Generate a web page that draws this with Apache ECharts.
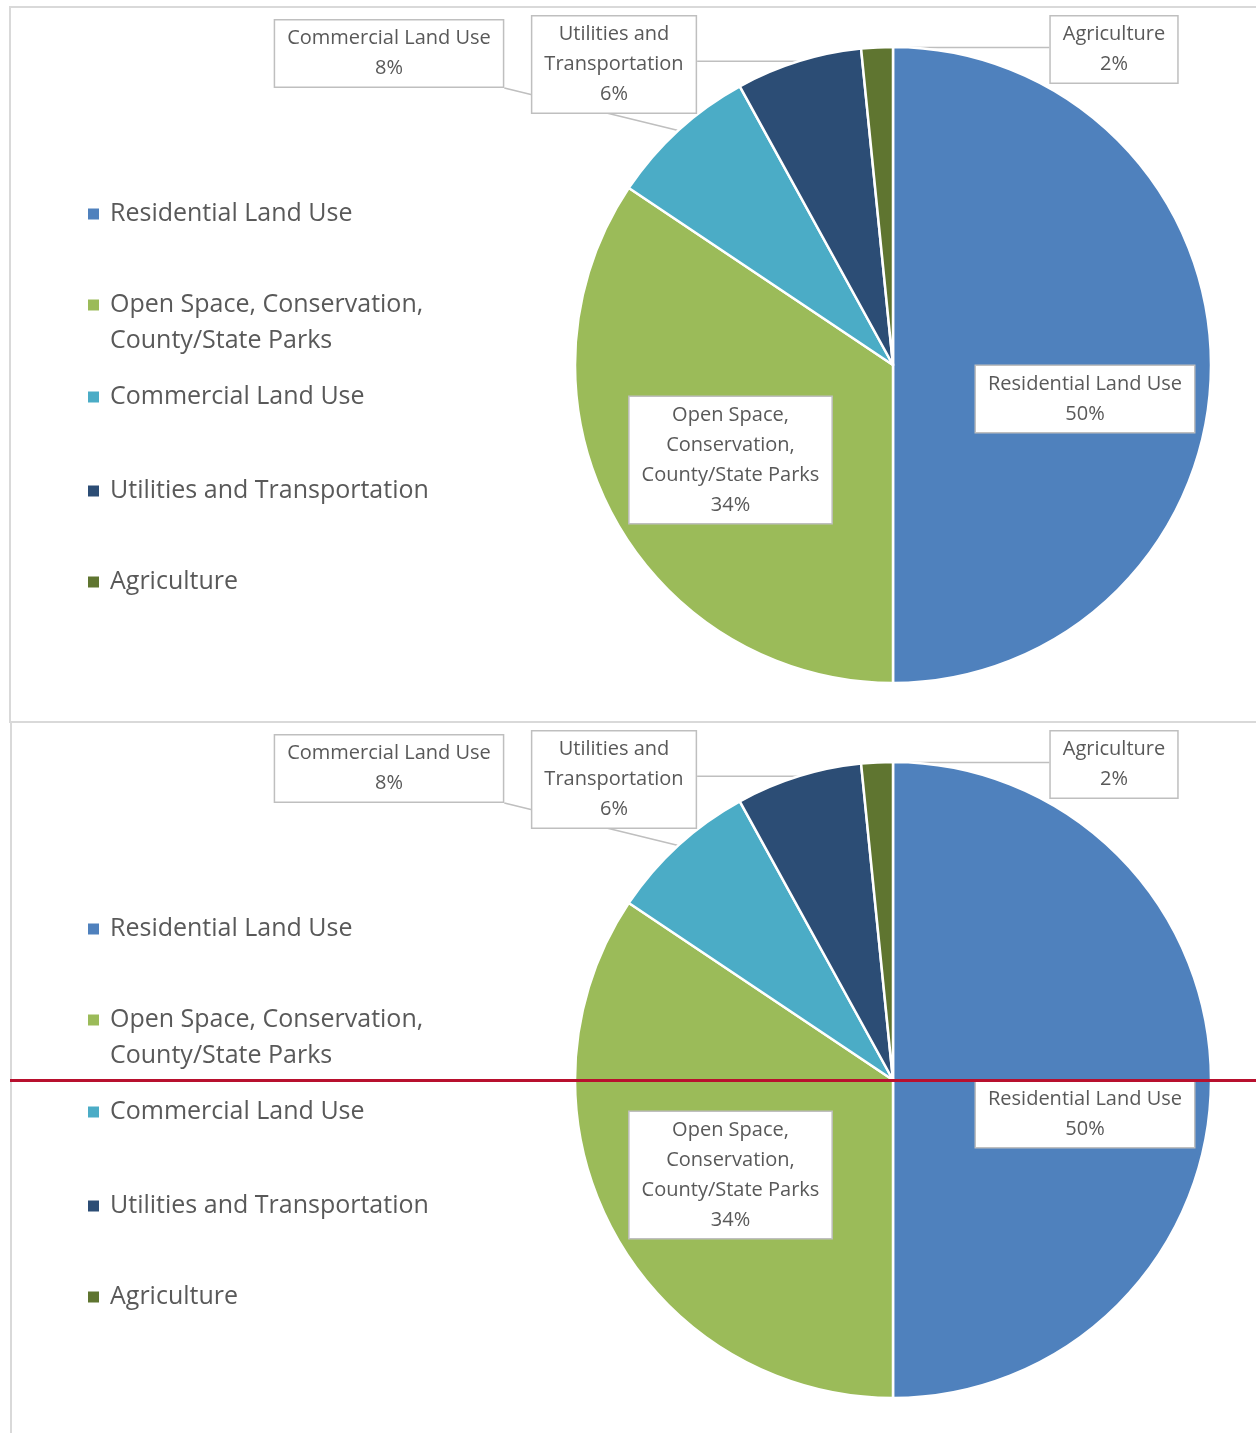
<!DOCTYPE html>
<html>
<head>
<meta charset="utf-8">
<title>Land Use</title>
<script src="https://cdn.jsdelivr.net/npm/echarts@6.0.0/dist/echarts.min.js"></script>
<style>
  html, body { margin: 0; padding: 0; background: #fff; }
  body { width: 1256px; height: 1433px; position: relative; overflow: hidden; }
  .frame1 { position: absolute; left: 9px; top: 6px; width: 1300px; height: 713px; border: 2px solid #d9d9d9; }
  .frame2 { position: absolute; left: 10px; top: 721px; width: 1300px; height: 800px; border-left: 2px solid #d9d9d9; }
  .chart { position: absolute; left: 0; width: 1256px; height: 716px; }
</style>
</head>
<body>
<div class="frame1"></div>
<div class="frame2"></div>
<div id="chart-top" class="chart" style="top:0"></div>
<div id="chart-bottom" class="chart" style="top:715px"></div>
<script>
// data
const categories = [
    'Residential Land Use',
    'Open Space, Conservation, County/State Parks',
    'Commercial Land Use',
    'Utilities and Transportation',
    'Agriculture'
];
const shares = [50.0, 34.4, 7.6, 6.4, 1.6];
const labelNames = [
    'Residential Land Use',
    'Open Space,\nConservation,\nCounty/State Parks',
    'Commercial Land Use',
    'Utilities and\nTransportation',
    'Agriculture'
];
const colors = ['#4f81bd', '#9bbb59', '#4bacc6', '#2c4d75', '#5f7530'];

// layout (pixels inside each chart)
const PIE_CENTER = [893, 365];
const PIE_RADIUS = 318;
const LEGEND_ROWS = [214, 305, 397, 491, 582];
const LABEL_CENTERS = [[1085, 399], [730.5, 460], [389, 53.5], [614, 64.5], [1114, 49.5]];
const FONT = '"Open Sans", "Noto Sans", sans-serif';
const TEXT_COLOR = '#595959';

function buildOption(withMarker) {
    // one legend per row so the rows can sit where the picture has them
    const legends = categories.map((name, i) => {
        const twoLine = name.indexOf(', County') > 0;
        return {
            orient: 'vertical',
            left: 88,
            top: twoLine ? LEGEND_ROWS[i] - 54 : LEGEND_ROWS[i] - 18,
            padding: 0,
            data: [name],
            icon: 'rect',
            itemWidth: 11,
            itemHeight: 11,
            itemStyle: { borderWidth: 0 },
            selectedMode: false,
            // a blank first line keeps the icon level with the first text line
            formatter: n => twoLine ? '\n' + n.replace(', County', ',\nCounty') : n,
            textStyle: {
                color: TEXT_COLOR,
                fontFamily: FONT,
                fontSize: 25,
                lineHeight: 36,
                padding: [0, 0, 0, 6]
            }
        };
    });

    const option = {
        animation: false,
        color: colors,
        legend: legends,
        series: [{
            type: 'pie',
            center: PIE_CENTER,
            radius: PIE_RADIUS,
            startAngle: 90,
            clockwise: true,
            avoidLabelOverlap: false,
            silent: true,
            emphasis: { disabled: true },
            itemStyle: { borderColor: '#fff', borderWidth: 2.5 },
            label: {
                show: true,
                position: 'outside',
                formatter: p => labelNames[p.dataIndex] + '\n' + Math.round(p.percent) + '%',
                color: TEXT_COLOR,
                fontFamily: FONT,
                fontSize: 20,
                lineHeight: 30,
                align: 'center',
                backgroundColor: '#fff',
                borderColor: '#bfbfbf',
                borderWidth: 1.5,
                padding: [5, 12, 1, 12]
            },
            labelLine: {
                show: true,
                length: 10,
                length2: 10,
                lineStyle: { color: '#bfbfbf', width: 1.5 }
            },
            labelLayout: function (params) {
                const c = LABEL_CENTERS[params.dataIndex];
                const w = params.labelRect.width;
                const h = params.labelRect.height;
                const res = { x: c[0], y: c[1], align: 'center', verticalAlign: 'middle' };
                const pts = params.labelLinePoints;
                if (pts && pts.length) {
                    const a = pts[0];
                    const px = Math.max(c[0] - w / 2, Math.min(a[0], c[0] + w / 2));
                    const py = Math.max(c[1] - h / 2, Math.min(a[1], c[1] + h / 2));
                    res.labelLinePoints = [a, [px, py], [px, py]];
                }
                return res;
            },
            data: categories.map((name, i) => ({ name: name, value: shares[i] }))
        }]
    };

    if (withMarker) {
        option.graphic = [{
            type: 'line',
            z: 100,
            shape: { x1: 10, y1: 365.5, x2: 1256, y2: 365.5 },
            style: { stroke: '#b8102e', lineWidth: 3 }
        }];
    }
    return option;
}

const topChart = echarts.init(document.getElementById('chart-top'));
topChart.setOption(buildOption(false));

const bottomChart = echarts.init(document.getElementById('chart-bottom'));
bottomChart.setOption(buildOption(true));
</script>
</body>
</html>
